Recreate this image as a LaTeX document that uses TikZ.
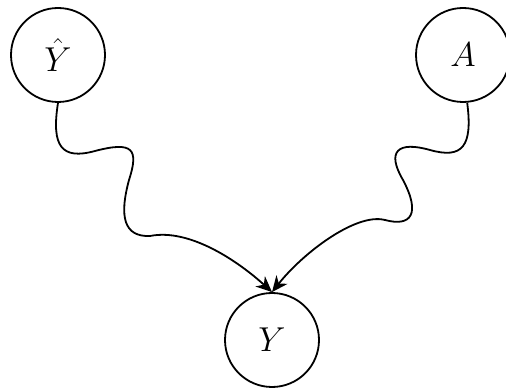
\documentclass[tikz,border=0pt]{standalone}
\usepackage{tikz}
\usetikzlibrary{arrows.meta,positioning}

\begin{document}
\begin{tikzpicture}[
  x=0.5pt, y=0.5pt,
  var/.style={circle, draw=black, line width=0.9pt, fill=white, minimum size=47pt, inner sep=0pt, font=\LARGE},
  arrow/.style={-{Stealth[length=8pt, width=7pt, inset=2.5pt]}, line width=0.9pt, draw=black},
]
\useasboundingbox (0,0) rectangle (506,389);
\node[var] (yhat) at (58,334) {$\hat{Y}$};
\node[var] (a) at (463,334) {$A$};
\node[var] (y) at (272,49) {$Y$};
% wiggle points
\coordinate (w1) at (95,238);
\coordinate (w2) at (129,209);
\coordinate (w3) at (150,153);
\coordinate (r1) at (430,239);
\coordinate (r2) at (403,209);
\coordinate (r3) at (385,169);
\draw[arrow] (yhat.south) .. controls (51,242) and (62,229) .. (w1)
  .. controls (133,248) and (139,240) .. (w2)
  .. controls (119,172) and (124,152) .. (w3)
  .. controls (190,161) and (239,127) .. (y.north);
\draw[arrow] (a.-85) .. controls (473,242) and (462,230) .. (r1)
  .. controls (398,248) and (386,238) .. (r2)
  .. controls (421,175) and (411,162) .. (r3)
  .. controls (356,176.5) and (303,136) .. (y.north);
\end{tikzpicture}
\end{document}
